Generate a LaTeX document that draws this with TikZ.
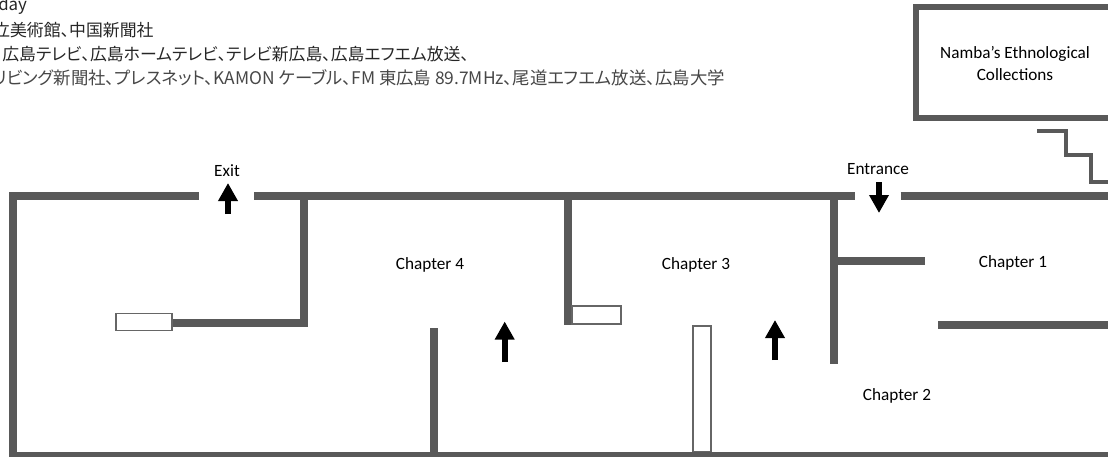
\documentclass[tikz,border=0pt]{standalone}
\usepackage{fontspec}
\usetikzlibrary{arrows.meta}
\setmainfont{Carlito}
\newfontfamily\cjkfont[RawFeature=+palt]{Noto Sans CJK JP}
\definecolor{wallgray}{HTML}{595959}
\definecolor{boxgray}{HTML}{666666}
\tikzset{
  wall/.style={draw=wallgray,line width=6pt,line cap=butt,line join=miter},
  thinwall/.style={draw=wallgray,line width=4.5pt,line cap=butt,line join=miter},
  thinbox/.style={draw=boxgray,line width=1.1pt,fill=white},
  flow/.style={draw=black,line width=4.2pt,-{Triangle[length=13.5pt,width=14pt]}},
  lab/.style={font=\fontsize{12.9pt}{15pt}\selectfont,text=black,inner sep=0pt,align=center},
  jp/.style={font=\cjkfont\fontsize{12.65pt}{15pt}\selectfont,text=black!85,inner sep=0pt,anchor=base west},
  jpwide/.style={jp,font=\cjkfont\fontsize{13.05pt}{15pt}\selectfont,text=black!72}
}
\begin{document}
\begin{tikzpicture}[x=0.75pt,y=-0.75pt]
\path[use as bounding box] (0,0) rectangle (1108,457);
\clip (0,0) rectangle (1108,457);
% heading text
\node[jp] (t1) at (-2,10) {day};
\node[jp] (t2) at (-7,36) {立美術館、中国新聞社};
\node[jp] (t3) at (2,60) {広島テレビ、広島ホームテレビ、テレビ新広島、広島エフエム放送、};
\node[jpwide] (t4) at (-8,84) {リビング新聞社、プレスネット、KAMON ケーブル、FM 東広島 89.7MHz、尾道エフエム放送、広島大学};
% outer walls
\draw[wall] (198.5,196) -- (13,196) -- (13,455.5) -- (1115,455.5);
\draw[wall] (254,196) -- (855,196);
\draw[wall] (900.5,196) -- (1115,196);
% inner walls
\draw[wall] (303.5,196) -- (303.5,323) -- (172,323);
\draw[wall] (568,196) -- (568,325);
\draw[wall] (433.5,328) -- (433.5,452);
\draw[wall] (834,196) -- (834,364);
\draw[wall] (834,261) -- (925,261);
\draw[wall] (938,325) -- (1115,325);
% display cases
\draw[thinbox] (116,313.5) rectangle (172,330.5);
\draw[thinbox] (572,306) rectangle (621,324);
\draw[thinbox] (693,326) rectangle (711,451.5);
% Namba's room
\draw[thinwall] (1120,6.5) -- (915.5,6.5) -- (915.5,118) -- (1120,118);
\draw[thinwall,line width=3.5pt] (1037,131) -- (1066,131) -- (1066,155) -- (1091,155) -- (1091,182) -- (1115,182);
% flow arrows
\coordinate (exitA) at (228,214); \coordinate (exitB) at (228,183);
\coordinate (entA) at (879,182); \coordinate (entB) at (879,213);
\coordinate (c4A) at (504.7,362); \coordinate (c4B) at (504.7,321.5);
\coordinate (c3A) at (775,360); \coordinate (c3B) at (775,320);
\draw[flow] (exitA) -- (exitB);
\draw[flow] (entA) -- (entB);
\draw[flow] (c4A) -- (c4B);
\draw[flow] (c3A) -- (c3B);
% labels
\node[lab] (exit) at (227,171) {Exit};
\node[lab] (entrance) at (878,169) {Entrance};
\node[lab] (ch4) at (430,265) {Chapter 4};
\node[lab] (ch3) at (696,265) {Chapter 3};
\node[lab] (ch1) at (1013,263) {Chapter 1};
\node[lab] (ch2) at (897,396) {Chapter 2};
\node[lab] (namba1) at (1015,54) {Namba\symbol{39}s Ethnological};
\node[lab] (namba2) at (1015,75) {Collections};
\end{tikzpicture}
\end{document}
